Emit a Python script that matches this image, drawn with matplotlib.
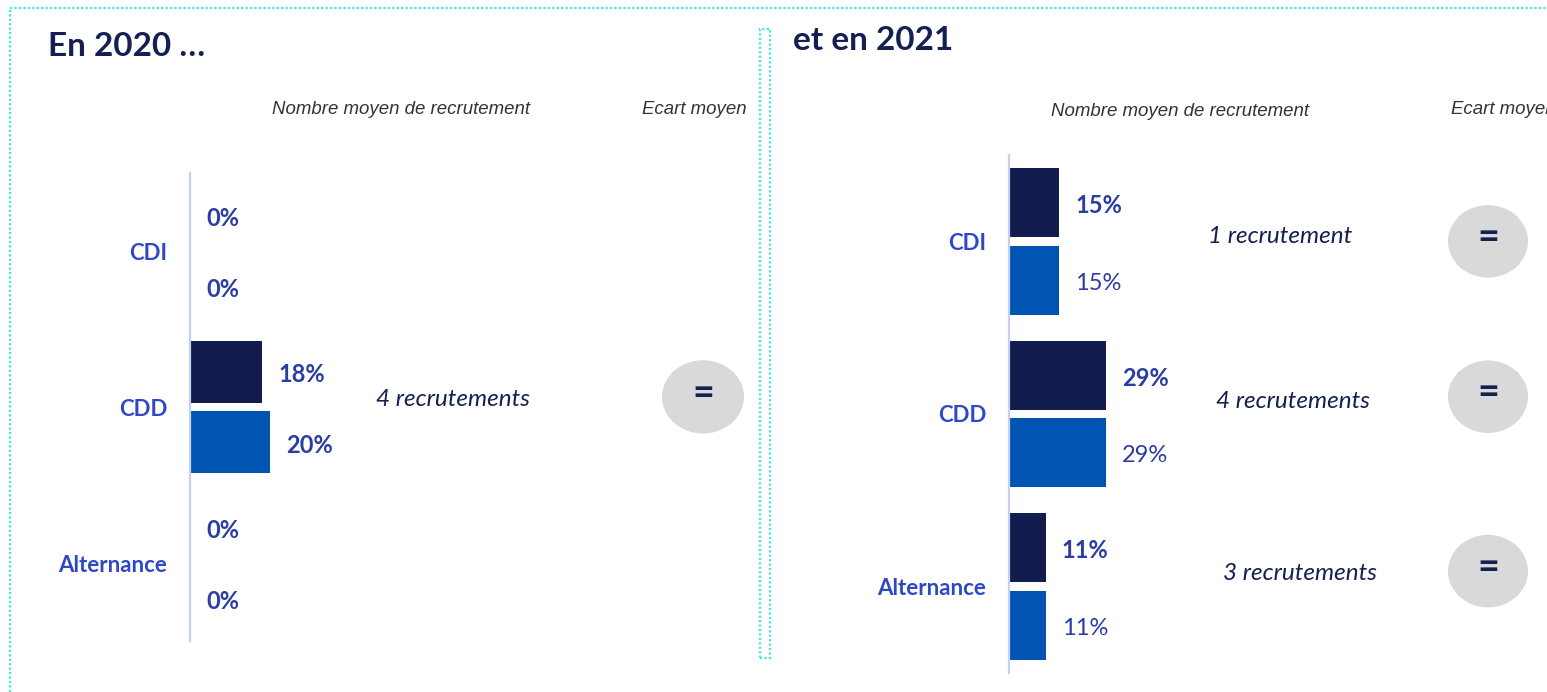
import matplotlib
matplotlib.use('Agg')
import matplotlib.pyplot as plt
from matplotlib.patches import Ellipse, Rectangle
from matplotlib.lines import Line2D

# data
categories = ['CDI', 'CDD', 'Alternance']
pct_2020_dark = [0, 18, 0]
pct_2020_blue = [0, 20, 0]
pct_2021_dark = [15, 29, 11]
pct_2021_blue = [15, 29, 11]
recrut_2020 = ['', '4 recrutements', '']
recrut_2021 = ['1 recrutement', '4 recrutements', '3 recrutements']
ecart_2020 = ['', '=', '']
ecart_2021 = ['=', '=', '=']

DARK = '#121c4e'
BLUE = '#0055b3'
LABEL = '#2b3ca3'
CAT = '#2f48c8'
NAVY = '#141f52'
CYAN = '#40ecd6'
W, H = 1547, 692

fig = plt.figure(figsize=(W / 100, H / 100), dpi=100)
fig.patch.set_facecolor('white')


def px_axes(x0, y0, x1, y1):
    # axes from pixel box (top-left origin)
    return fig.add_axes([x0 / W, 1 - y1 / H, (x1 - x0) / W, (y1 - y0) / H])


def draw_panel(ax, dark, blue, scale, blue_bold, recrut, recrut_x, recrut_dy,
               ecart, ell_x, ell_dy, ell_w, ell_h):
    n = len(categories)
    ys = list(range(n))
    ax.barh([y - 0.225 for y in ys], dark, height=0.4, color=DARK)
    ax.barh([y + 0.225 for y in ys], blue, height=0.4, color=BLUE)
    for y, a, b in zip(ys, dark, blue):
        ax.annotate(f'{a}%', (a, y - 0.225), xytext=(16, -3), textcoords='offset pixels',
                    ha='left', va='center', fontsize=17, fontweight='bold',
                    color=LABEL, family='Lato')
        ax.annotate(f'{b}%', (b, y + 0.225), xytext=(16, -3), textcoords='offset pixels',
                    ha='left', va='center', fontsize=17,
                    fontweight='bold' if blue_bold else 'normal',
                    color=LABEL, family='Lato')
    for y, r, rx, rdy, e, edy in zip(ys, recrut, recrut_x, recrut_dy, ecart, ell_dy):
        if r:
            ax.text(rx, y + rdy, r, ha='center', va='center', fontsize=17.5,
                    style='italic', color=NAVY, family='Lato')
        if e:
            ax.add_patch(Ellipse((ell_x, y + edy), ell_w / scale, ell_h,
                                 facecolor='#d9d9d9', edgecolor='none', clip_on=False))
            ax.text(ell_x, y + edy - 0.02, e, ha='center', va='center', fontsize=27,
                    fontweight='bold', color=NAVY, family='Lato', clip_on=False)
    ax.set_ylim(n - 0.5, -0.5)
    ax.set_yticks(ys)
    ax.set_yticklabels(categories, fontsize=16, fontweight='bold', color=CAT, family='Lato')
    ax.tick_params(axis='y', length=0, pad=16.5)
    ax.set_xticks([])
    for s in ['top', 'right', 'bottom']:
        ax.spines[s].set_visible(False)
    ax.spines['left'].set_color('#c8d0f2')
    ax.spines['left'].set_linewidth(1.6)
    ax.patch.set_alpha(0)


# left panel, 2020
ax1 = px_axes(190, 173, 760, 641)
s1 = 4.0
ax1.set_xlim(0, 570 / s1)
draw_panel(ax1, pct_2020_dark, pct_2020_blue, s1, True, recrut_2020,
           [(453 - 190) / s1] * 3, [0, -0.045, 0],
           ecart_2020, (703 - 190) / s1, [0, -0.065, 0], 82, 0.47)

# right panel, 2021
ax2 = px_axes(1009, 155, 1547, 673)
s2 = 3.35
ax2.set_xlim(0, 538 / s2)
draw_panel(ax2, pct_2021_dark, pct_2021_blue, s2, False, recrut_2021,
           [(px - 1009) / s2 for px in (1280, 1293, 1300)], [-0.03, -0.075, -0.075],
           ecart_2021, (1488 - 1009) / s2, [0.0, -0.1, -0.09], 80, 0.42)

# titles and column headers
fig.text(48 / W, 1 - 46 / H, 'En 2020 …', fontsize=24, fontweight='bold', color=NAVY,
         family='Lato', va='center', ha='left')
fig.text(793 / W, 1 - 40 / H, 'et en 2021', fontsize=24, fontweight='bold', color=NAVY,
         family='Lato', va='center', ha='left')
hdr = dict(fontsize=13.4, style='italic', color='#333333', family='Liberation Sans', va='center')
fig.text(401 / W, 1 - 110 / H, 'Nombre moyen de recrutement', ha='center', **hdr)
fig.text(694 / W, 1 - 110 / H, 'Ecart moyen', ha='center', **hdr)
fig.text(1180 / W, 1 - 111 / H, 'Nombre moyen de recrutement', ha='center', **hdr)
# cut off by the right edge, as in the source slide
fig.text(1451 / W, 1 - 110 / H, 'Ecart moyen', ha='left', **hdr)

# dotted frames
dot = dict(color=CYAN, linestyle=(0, (1, 1)), linewidth=1.6, transform=fig.transFigure)
fig.add_artist(Line2D([10 / W, 1], [1 - 8 / H, 1 - 8 / H], **dot))
fig.add_artist(Line2D([10 / W, 10 / W], [0, 1 - 8 / H], **dot))
fig.add_artist(Rectangle((760 / W, 1 - 658 / H), 10 / W, 629 / H, fill=False,
                         edgecolor=CYAN, linestyle=(0, (1, 1)), linewidth=1.6,
                         transform=fig.transFigure))

fig.savefig('out.png', dpi=100)
